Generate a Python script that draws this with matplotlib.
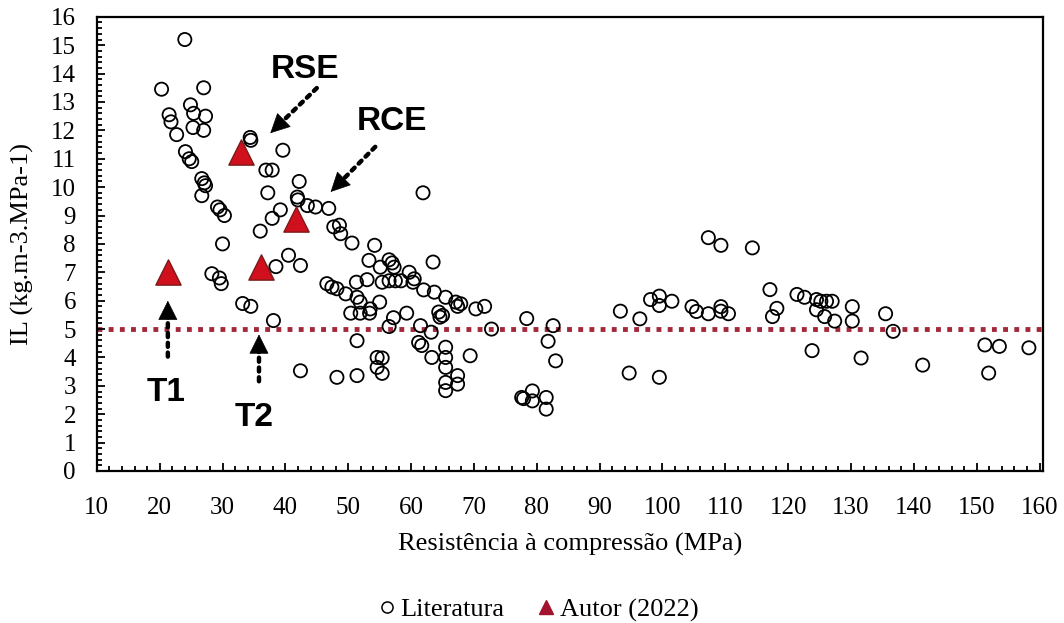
import matplotlib
matplotlib.use("Agg")
import matplotlib.pyplot as plt
from matplotlib.lines import Line2D
from matplotlib.ticker import MultipleLocator
import numpy as np

# ---- data ----
lit_x = [24.0, 20.3, 27.0, 24.9, 25.4, 21.5, 27.3, 21.8, 25.3, 27.0,
         22.7, 24.1, 24.7, 25.1, 26.7, 27.1, 27.3, 26.7, 29.2, 29.6,
         30.3, 30.0, 34.4, 34.5, 39.6, 36.9, 37.9, 42.2, 37.2, 41.9,
         42.0, 43.5, 44.8, 46.9, 39.2, 37.9, 36.0, 47.7, 48.6, 48.8,
         50.6, 54.2, 40.5, 42.4, 38.5, 28.3, 29.5, 29.8, 33.2, 34.5,
         38.1, 53.3, 56.5, 57.0, 57.3, 55.1, 63.5, 59.7, 61.9, 46.6,
         47.4, 48.2, 49.6, 51.3, 53.0, 55.4, 56.5, 57.5, 58.4, 60.3,
         60.5, 62.0, 63.7, 65.5, 67.1, 67.9, 67.4, 70.3, 71.7, 64.4,
         65.0, 64.6, 51.4, 51.9, 50.4, 51.9, 53.5, 53.4, 55.0, 59.3,
         57.2, 56.5, 61.5, 63.2, 51.4, 61.2, 61.7, 65.5, 65.5, 65.5,
         63.3, 69.4, 54.6, 55.4, 54.6, 55.4, 42.4, 48.2, 51.4, 65.5,
         65.5, 67.4, 67.4, 72.8, 78.4, 82.6, 81.8, 83.0, 77.6, 77.9,
         79.3, 79.3, 81.5, 81.5,
         107.3, 109.3, 114.3, 93.3, 96.4, 98.1, 99.5, 99.5, 101.5, 104.7,
         105.4, 107.3, 109.3, 109.3, 110.5, 117.1, 118.2, 117.5, 121.4, 122.6,
         124.5, 125.2, 126.1, 127.0, 124.5, 125.8, 127.4, 130.2, 130.2, 135.5,
         136.7, 123.8, 131.6, 141.4, 151.3, 153.6, 151.9, 158.3, 94.7, 99.5]
lit_y = [15.2, 13.45, 13.5, 12.9, 12.6, 12.55, 12.5, 12.3, 12.1, 12.0,
         11.85, 11.25, 11.0, 10.9, 10.3, 10.15, 10.05, 9.7, 9.3, 9.2,
         9.0, 8.0, 11.75, 11.65, 11.3, 10.6, 10.6, 10.2, 9.8, 9.65,
         9.55, 9.35, 9.3, 9.25, 9.2, 8.9, 8.45, 8.6, 8.66, 8.36,
         8.03, 7.95, 7.6, 7.24, 7.2, 6.95, 6.8, 6.6, 5.9, 5.8,
         5.3, 7.42, 7.44, 7.33, 7.18, 7.18, 7.36, 7.0, 9.8, 6.6,
         6.48, 6.42, 6.24, 6.65, 6.74, 6.65, 6.7, 6.7, 6.7, 6.65,
         6.77, 6.38, 6.3, 6.12, 5.95, 5.89, 5.8, 5.71, 5.8, 5.6,
         5.48, 5.42, 6.12, 5.95, 5.56, 5.56, 5.71, 5.56, 5.95, 5.56,
         5.4, 5.09, 5.12, 4.89, 4.59, 4.53, 4.42, 4.36, 4.0, 3.65,
         4.0, 4.06, 4.0, 3.98, 3.65, 3.44, 3.53, 3.3, 3.36, 3.12,
         2.83, 3.36, 3.06, 5.0, 5.37, 5.12, 4.57, 3.88, 2.59, 2.55,
         2.82, 2.47, 2.59, 2.18,
         8.22, 7.95, 7.86, 5.63, 5.36, 6.04, 6.16, 5.83, 5.98, 5.79,
         5.62, 5.54, 5.79, 5.63, 5.54, 6.39, 5.73, 5.44, 6.22, 6.12,
         6.04, 5.98, 5.98, 5.98, 5.68, 5.44, 5.28, 5.79, 5.28, 5.54,
         4.92, 4.24, 3.98, 3.73, 4.44, 4.39, 3.45, 4.34, 3.45, 3.3]

autor_x = [21.3, 36.2, 33.0, 41.7]
autor_y = [7.0, 7.18, 11.25, 8.89]

limit_y = 5.0

# annotations: label, text position, arrow start, arrow tip
ann_labels = ["RSE", "RCE", "T1", "T2"]
ann_text = [(43.2, 14.15), (57.0, 12.3), (21.0, 2.76), (35.0, 1.9)]
ann_start = [(45.0, 13.49), (54.3, 11.42), (21.3, 4.03), (35.8, 3.16)]
ann_tip = [(37.6, 11.9), (47.2, 9.83), (21.3, 6.0), (35.8, 4.81)]

x_ticks = list(range(10, 161, 10))
y_ticks = list(range(0, 17))

# ---- figure ----
serif = ["Liberation Serif", "DejaVu Serif"]
bold_sans = ["Liberation Sans Narrow", "Liberation Sans", "DejaVu Sans"]

fig = plt.figure(figsize=(10.64, 6.23), dpi=100)
ax = fig.add_axes([0.091, 0.244, 0.889, 0.729])

ax.axhline(limit_y, color="#A3283A", lw=3.5, linestyle=(0, (1, 1.3)), zorder=1)

ax.scatter(lit_x, lit_y, s=90, facecolors="none", edgecolors="black",
           linewidths=1.3, zorder=3)
ax.scatter(autor_x, autor_y, marker="^", s=330, color="#D0101C",
           edgecolors="#7A1A1A", linewidths=1.0, zorder=4)

ax.set_xlim(10, 160.5)
ax.set_ylim(0, 16)

head_len_px = 18.0
for lab, tp, st, tip in zip(ann_labels, ann_text, ann_start, ann_tip):
    ax.text(tp[0], tp[1], lab, ha="center", va="center", fontsize=24,
            fontweight="bold", family=bold_sans, zorder=5)
    p0 = ax.transData.transform(st)
    p1 = ax.transData.transform(tip)
    d = (p1 - p0) / np.hypot(*(p1 - p0))
    back = ax.transData.inverted().transform(p1 - d * head_len_px)
    back2 = ax.transData.inverted().transform(p1 - d * (head_len_px - 3))
    ax.annotate("", xy=back2, xytext=st,
                arrowprops=dict(arrowstyle="-", lw=3.2,
                                linestyle=(0, (0.9, 1.3)), color="black",
                                shrinkA=0, shrinkB=0), zorder=5)
    ax.annotate("", xy=tip, xytext=back,
                arrowprops=dict(arrowstyle="-|>,head_length=1.0,head_width=0.5",
                                lw=0.5, color="black", mutation_scale=13,
                                shrinkA=0, shrinkB=0), zorder=5)

ax.set_xticks(x_ticks)
ax.set_yticks(y_ticks)
ax.xaxis.set_minor_locator(MultipleLocator(2))
ax.yaxis.set_minor_locator(MultipleLocator(0.2))
ax.tick_params(which="both", direction="in", width=1.3, color="black")
ax.tick_params(which="major", length=6)
ax.tick_params(which="minor", length=3.5)
ax.tick_params(axis="x", which="major", pad=19)
ax.tick_params(axis="y", which="major", pad=15)
for lbl in ax.get_xticklabels() + ax.get_yticklabels():
    lbl.set_family(serif)
    lbl.set_fontsize(18)
for sp in ax.spines.values():
    sp.set_linewidth(1.6)
    sp.set_color("black")

ax.set_xlabel("Resistência à compressão (MPa)", family=serif, fontsize=19,
              va="center")
ax.xaxis.set_label_coords(0.5, -0.161)
ax.set_ylabel("IL (kg.m-3.MPa-1)", family=serif, fontsize=19, va="center")
ax.yaxis.set_label_coords(-0.079, 0.5)

handles = [
    Line2D([], [], marker="o", linestyle="none", markerfacecolor="none",
           markeredgecolor="black", markersize=8, markeredgewidth=1.1),
    Line2D([], [], marker="^", linestyle="none", color="#A3132E",
           markersize=10),
]
fig.legend(handles, ["Literatura", "Autor (2022)"], loc="center",
           bbox_to_anchor=(0.505, 0.021), ncol=2, frameon=False,
           prop={"family": serif, "size": 19}, handletextpad=0.1,
           columnspacing=1.2, handlelength=0.8)

fig.savefig("out.png", dpi=100)
